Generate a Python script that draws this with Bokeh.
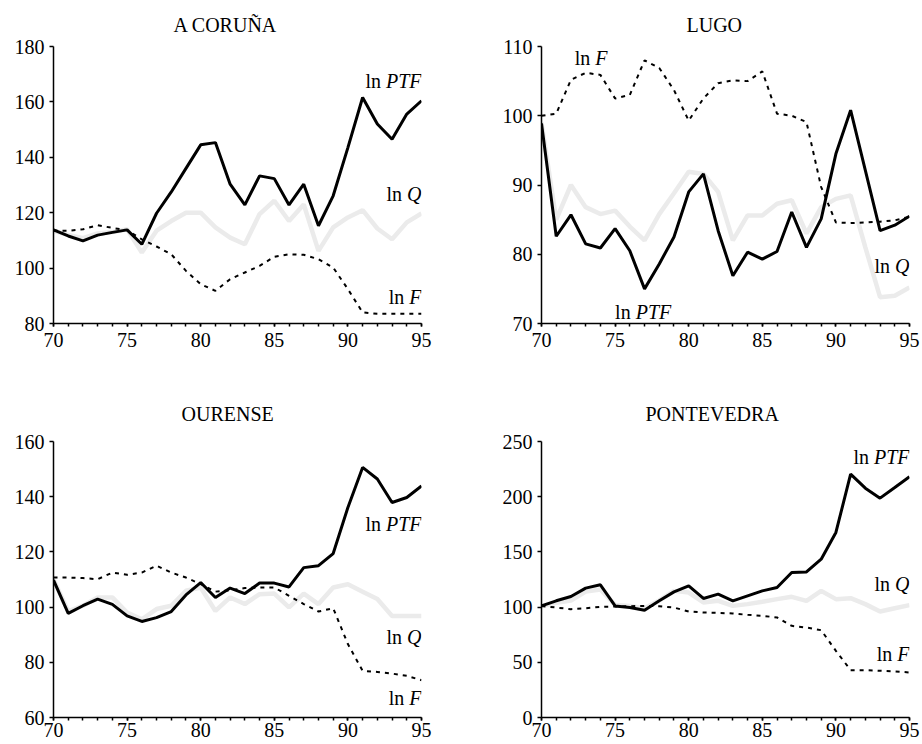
from bokeh.plotting import figure
from bokeh.layouts import column, row
from bokeh.models import FixedTicker
from bokeh.core.properties import value
from bokeh.embed import file_html
from bokeh.resources import INLINE

years = list(range(70, 96))
x_major = [70, 75, 80, 85, 90, 95]

# A CORUÑA
coruna_ptf = [113.8, 111.6, 109.8, 111.9, 112.9, 113.8, 108.6, 119.8, 127.5, 136.0, 144.5, 145.3, 130.3,
              122.8, 133.3, 132.3, 122.8, 130.3, 115.3, 126.1, 143.5, 161.6, 152.0, 146.5, 155.6, 160.4]
coruna_q = [113.5, 112.0, 110.8, 112.5, 113.0, 114.0, 105.6, 113.5, 117.0, 120.0, 120.0, 114.7, 111.0,
            108.6, 119.5, 124.3, 117.0, 123.0, 106.2, 114.7, 118.3, 120.9, 114.3, 110.4, 116.5, 119.7]
coruna_f = [113.5, 113.5, 114.0, 115.5, 114.5, 113.7, 110.4, 107.8, 105.0, 99.0, 94.2, 91.8, 96.0,
            98.4, 100.8, 104.1, 105.0, 104.8, 103.2, 100.2, 92.4, 84.0, 83.5, 83.5, 83.5, 83.5]

# LUGO
lugo_ptf = [98.9, 82.6, 85.7, 81.5, 80.9, 83.7, 80.5, 75.0, 78.6, 82.5, 89.0, 91.6, 83.4,
            76.9, 80.3, 79.3, 80.4, 86.1, 81.0, 85.1, 94.5, 100.8, 92.1, 83.4, 84.2, 85.5]
lugo_q = [99.0, 85.0, 90.0, 86.8, 85.8, 86.3, 84.0, 82.0, 85.8, 88.8, 91.9, 91.6, 89.0,
          82.0, 85.6, 85.6, 87.3, 87.8, 83.0, 86.8, 88.0, 88.5, 81.0, 73.8, 74.0, 75.2]
lugo_f = [100.0, 100.3, 105.2, 106.2, 105.9, 102.5, 103.0, 108.0, 106.9, 103.7, 99.3, 102.5, 104.7,
          105.1, 105.0, 106.4, 100.3, 100.0, 99.1, 89.7, 84.6, 84.5, 84.6, 84.7, 84.9, 85.4]

# OURENSE
ourense_ptf = [109.8, 97.7, 100.5, 102.9, 101.0, 96.8, 94.8, 96.2, 98.4, 104.4, 108.9, 103.5, 106.9,
               104.9, 108.7, 108.7, 107.3, 114.3, 115.0, 119.4, 136.1, 150.6, 146.4, 137.9, 139.7, 143.9]
ourense_q = [110.0, 98.5, 100.5, 103.5, 103.5, 98.0, 95.6, 99.3, 100.5, 105.9, 107.1, 98.6, 103.5,
             101.1, 104.7, 104.9, 99.9, 104.9, 101.1, 107.1, 108.3, 105.6, 102.9, 96.8, 96.8, 96.8]
ourense_f = [110.7, 110.7, 110.5, 110.1, 112.5, 111.7, 112.5, 115.0, 112.5, 110.7, 108.3, 105.6, 106.1,
             106.9, 107.1, 107.1, 104.1, 101.1, 98.4, 99.6, 86.6, 76.9, 76.5, 75.9, 75.1, 73.5]

# PONTEVEDRA
pontevedra_ptf = [101.1, 105.7, 109.6, 117.2, 120.2, 101.1, 99.6, 97.2, 105.7, 113.8, 119.3, 107.8, 111.7,
                  105.7, 110.2, 114.7, 117.8, 131.3, 131.9, 143.4, 167.6, 220.4, 207.7, 198.7, 208.3, 218.0]
pontevedra_q = [101.0, 104.0, 106.0, 114.0, 116.0, 102.0, 101.0, 99.0, 106.0, 114.7, 113.2, 104.2, 105.7,
                101.1, 102.7, 104.8, 107.2, 109.3, 105.7, 114.7, 107.2, 108.1, 102.7, 96.0, 99.0, 101.8]
pontevedra_f = [101.0, 99.6, 98.1, 99.0, 100.2, 100.5, 100.8, 101.1, 100.8, 99.6, 96.0, 95.1, 94.8,
                94.2, 93.0, 92.1, 90.6, 83.0, 81.5, 79.1, 60.4, 42.9, 42.9, 42.3, 41.8, 40.8]

FONT = "Liberation Serif"
FS = 20
SPACE = 0.25 * FS
LN_W = 0.778 * FS
ITALIC_W = {"PTF": 1.778 * FS, "Q": 0.722 * FS, "F": 0.611 * FS}


def add_label(p, x, y, name, align):
    if align == "right":
        p.text(x=[x], y=[y], text=[name], text_align="right", text_baseline="alphabetic",
               text_font=value(FONT), text_font_size=f"{FS}px", text_font_style="italic",
               text_color="black")
        p.text(x=[x], y=[y], text=["ln"], text_align="right", text_baseline="alphabetic",
               text_font=value(FONT), text_font_size=f"{FS}px", text_color="black",
               x_offset=-(ITALIC_W[name] + SPACE))
    else:
        p.text(x=[x], y=[y], text=["ln"], text_align="left", text_baseline="alphabetic",
               text_font=value(FONT), text_font_size=f"{FS}px", text_color="black")
        p.text(x=[x], y=[y], text=[name], text_align="left", text_baseline="alphabetic",
               text_font=value(FONT), text_font_size=f"{FS}px", text_font_style="italic",
               text_color="black", x_offset=LN_W + SPACE)


def panel(title, title_left, title_standoff, ptf, q, f, yrange, yticks, labels,
          width, height, bl, br, bt, bb, x_standoff):
    p = figure(width=width, height=height, x_range=(70, 95), y_range=yrange,
               output_backend="svg", toolbar_location=None,
               min_border_left=bl, min_border_right=br, min_border_top=bt, min_border_bottom=bb)
    p.title.text = title
    p.title.align = "left"
    p.title.offset = title_left
    p.title.text_font = FONT
    p.title.text_font_size = f"{FS}px"
    p.title.text_font_style = "normal"
    p.title.text_color = "black"
    p.title.standoff = title_standoff
    p.outline_line_color = None
    p.xgrid.visible = False
    p.ygrid.visible = False
    p.background_fill_color = "white"
    p.border_fill_color = "white"

    p.line(years, q, line_color="#ebebeb", line_width=4.5)
    p.line(years, f, line_color="black", line_width=2, line_dash="4 5")
    p.line(years, ptf, line_color="black", line_width=3)

    for (x, y, name, align) in labels:
        add_label(p, x, y, name, align)

    xa = p.xaxis[0]
    xa.ticker = FixedTicker(ticks=x_major, minor_ticks=years)
    xa.major_tick_in = 0
    xa.major_tick_out = 3
    xa.minor_tick_in = 0
    xa.minor_tick_out = 3
    xa.minor_tick_line_color = "black"
    xa.minor_tick_line_width = 1.5
    xa.major_label_standoff = x_standoff

    ya = p.yaxis[0]
    ya.ticker = FixedTicker(ticks=yticks, minor_ticks=[])
    ya.major_tick_in = 0
    ya.major_tick_out = 4
    ya.major_label_standoff = 5

    for ax in (xa, ya):
        ax.axis_line_color = "black"
        ax.axis_line_width = 1.5
        ax.major_tick_line_color = "black"
        ax.major_tick_line_width = 1.5
        ax.major_label_text_font = FONT
        ax.major_label_text_font_size = f"{FS}px"
        ax.major_label_text_color = "black"
    return p


p1 = panel("A CORUÑA", 120, 22, coruna_ptf, coruna_q, coruna_f, (80, 180), [80, 100, 120, 140, 160, 180],
           [(95, 167.7, "PTF", "right"), (95, 126.8, "Q", "right"), (95, 89.7, "F", "right")],
           461, 375, 53, 40, 46, 52, 6)
p2 = panel("LUGO", 145, 22, lugo_ptf, lugo_q, lugo_f, (70, 110), [70, 80, 90, 100, 110],
           [(72.26, 108.3, "F", "left"), (75.0, 71.6, "PTF", "left"), (95, 78.25, "Q", "right")],
           461, 375, 80, 13, 46, 52, 6)
p3 = panel("OURENSE", 128, 34, ourense_ptf, ourense_q, ourense_f, (60, 160), [60, 80, 100, 120, 140, 160],
           [(95, 130.1, "PTF", "right"), (95, 89.3, "Q", "right"), (95, 67.0, "F", "right")],
           461, 369, 53, 40, 66, 27, 2)
p4 = panel("PONTEVEDRA", 104, 34, pontevedra_ptf, pontevedra_q, pontevedra_f, (0, 250),
           [0, 50, 100, 150, 200, 250],
           [(95, 236.4, "PTF", "right"), (95, 121.1, "Q", "right"), (95, 57.7, "F", "right")],
           461, 369, 80, 13, 66, 27, 2)

layout = column(row(p1, p2), row(p3, p4))
open("out.html", "w").write(file_html(layout, INLINE))
